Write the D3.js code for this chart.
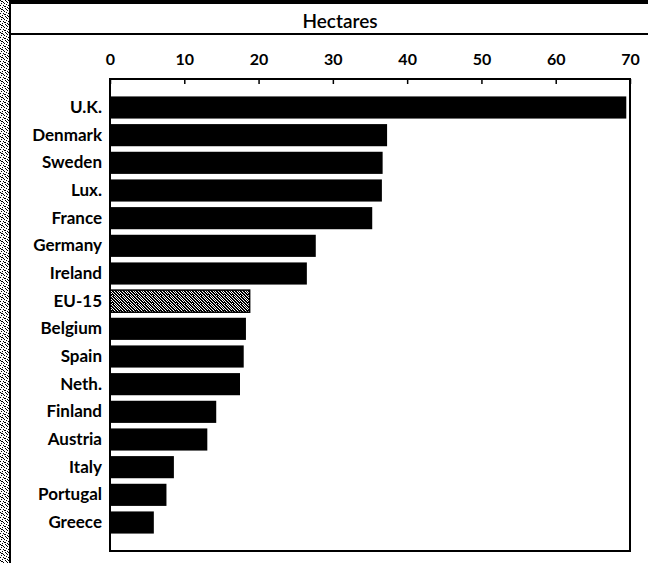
<!DOCTYPE html>
<html>
<head>
<meta charset="utf-8">
<script src="https://cdn.jsdelivr.net/npm/d3@7"></script>
<style>
  html, body { margin: 0; padding: 0; background: #fff; }
  svg { display: block; }
</style>
</head>
<body>
<svg id="chart" width="648" height="563"></svg>
<script>
// ---- data ----
const categories = ["U.K.", "Denmark", "Sweden", "Lux.", "France", "Germany", "Ireland", "EU-15",
  "Belgium", "Spain", "Neth.", "Finland", "Austria", "Italy", "Portugal", "Greece"];
const values = [69.5, 37.3, 36.7, 36.6, 35.3, 27.7, 26.5, 18.8, 18.3, 18.0, 17.5, 14.3, 13.1, 8.6, 7.6, 5.9];
const highlighted = ["EU-15"];
const tickValues = [0, 10, 20, 30, 40, 50, 60, 70];
const axisTitle = "Hectares";

// ---- layout ----
const W = 648, H = 563;
const plot = { left: 110, right: 630, top: 79, bottom: 551 };
const svg = d3.select("#chart");

// stipple patterns
const defs = svg.append("defs");
function makePattern(id, cells) {
  const p = defs.append("pattern").attr("id", id).attr("width", 8).attr("height", 8)
    .attr("patternUnits", "userSpaceOnUse");
  p.append("rect").attr("width", 8).attr("height", 8).attr("fill", "#fff");
  cells.forEach(([cx, cy]) => p.append("rect").attr("x", cx).attr("y", cy)
    .attr("width", 1).attr("height", 1).attr("fill", "#000"));
}
makePattern("stipLight", [[0,0],[2,1],[5,0],[7,2],[1,3],[4,3],[6,4],[0,5],[3,5],[5,6],[2,7],[7,7],[1,1],[6,1],[3,2],[4,6]]);
makePattern("stipDense", [
  [0,0],[1,0],[3,0],[5,0],[6,0],
  [1,1],[2,1],[4,1],[6,1],[7,1],
  [0,2],[2,2],[3,2],[5,2],[7,2],
  [0,3],[1,3],[3,3],[4,3],[6,3],
  [1,4],[2,4],[4,4],[5,4],[7,4],
  [0,5],[2,5],[3,5],[5,5],[6,5],
  [0,6],[1,6],[3,6],[4,6],[6,6],[7,6],
  [1,7],[2,7],[4,7],[5,7],[7,7]
]);

// scan frame artefacts
svg.append("rect").attr("x", 0).attr("y", 0).attr("width", W).attr("height", 4).attr("fill", "#000");
svg.append("rect").attr("x", 0).attr("y", 0).attr("width", 9).attr("height", H).attr("fill", "url(#stipLight)");
svg.append("line").attr("x1", 10).attr("x2", 10).attr("y1", 0).attr("y2", H)
  .attr("stroke", "#000").attr("stroke-width", 2);
svg.append("line").attr("x1", 10).attr("x2", W).attr("y1", 34).attr("y2", 34)
  .attr("stroke", "#000").attr("stroke-width", 2);

// title
svg.append("text").attr("x", 340).attr("y", 28).attr("text-anchor", "middle")
  .attr("font-family", "Lato, 'DejaVu Sans', sans-serif").attr("font-size", 19).attr("font-weight", 600)
  .attr("fill", "#000").text(axisTitle);

// scales
const x = d3.scaleLinear().domain([0, 70]).range([plot.left, plot.right]);
const y = d3.scaleBand().domain(categories).range([plot.top, plot.bottom])
  .paddingInner(0.2).paddingOuter(0.63);

// bars
svg.append("g").selectAll("rect").data(categories).join("rect")
  .attr("x", x(0))
  .attr("y", d => y(d))
  .attr("width", (d, i) => x(values[i]) - x(0))
  .attr("height", y.bandwidth())
  .attr("fill", d => highlighted.includes(d) ? "url(#stipDense)" : "#000")
  .attr("stroke", d => highlighted.includes(d) ? "#000" : "none")
  .attr("stroke-width", 1.5);

// frame
svg.append("rect").attr("x", plot.left).attr("y", plot.top)
  .attr("width", plot.right - plot.left).attr("height", plot.bottom - plot.top)
  .attr("fill", "none").attr("stroke", "#000").attr("stroke-width", 2);

// top axis: ticks inward, labels above
const axis = d3.axisTop(x).tickValues(tickValues).tickSize(-5).tickPadding(14).tickFormat(d3.format("d"));
const gx = svg.append("g").attr("transform", `translate(0,${plot.top})`).call(axis);
gx.select(".domain").remove();
gx.selectAll(".tick line").attr("stroke", "#000").attr("stroke-width", 1.5);
gx.selectAll(".tick text").attr("font-family", "Lato, 'DejaVu Sans', sans-serif")
  .attr("font-size", 16).attr("font-weight", 700).attr("fill", "#000");

// category labels
const axisL = d3.axisLeft(y).tickSize(0).tickPadding(8);
const gy = svg.append("g").attr("transform", `translate(${plot.left},0)`).call(axisL);
gy.select(".domain").remove();
gy.selectAll(".tick text").attr("font-family", "Lato, 'DejaVu Sans', sans-serif")
  .attr("font-size", 17).attr("font-weight", 700).attr("fill", "#000");
</script>
</body>
</html>
